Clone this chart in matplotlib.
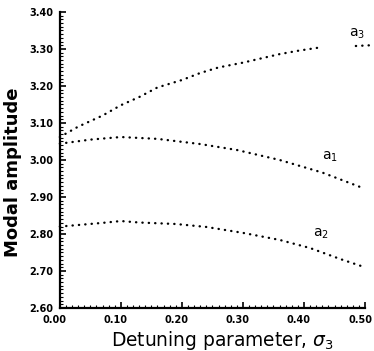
import numpy as np
import matplotlib
matplotlib.use("Agg")
import matplotlib.pyplot as plt
import matplotlib.transforms as mtransforms
from matplotlib.ticker import MultipleLocator

# values
sig_a3 = [0.0, 0.03, 0.07, 0.10, 0.13, 0.16, 0.20, 0.23, 0.26, 0.30, 0.36, 0.39, 0.43]
amp_a3 = [3.062, 3.09, 3.12, 3.148, 3.17, 3.196, 3.216, 3.235, 3.25, 3.263, 3.286, 3.295, 3.305]
sig_a3_tail = [0.485, 0.51]
amp_a3_tail = [3.308, 3.31]

sig_a1 = [0.0, 0.05, 0.10, 0.16, 0.23, 0.29, 0.36, 0.43, 0.50]
amp_a1 = [3.044, 3.055, 3.062, 3.057, 3.043, 3.027, 3.0, 2.966, 2.922]

sig_a2 = [0.0, 0.07, 0.10, 0.13, 0.19, 0.24, 0.30, 0.36, 0.41, 0.46, 0.50]
amp_a2 = [2.82, 2.83, 2.835, 2.831, 2.827, 2.819, 2.803, 2.784, 2.762, 2.732, 2.71]

xticks = [0.0, 0.1, 0.2, 0.3, 0.4, 0.5]
yticks = [2.6, 2.7, 2.8, 2.9, 3.0, 3.1, 3.2, 3.3, 3.4]

fig = plt.figure(figsize=(3.74, 3.51), dpi=100)
ax = fig.add_axes([0.160, 0.1225, 0.816, 0.8435])

dot = dict(color="black", linewidth=1.7, linestyle=(0, (0.1, 2.6)),
           dash_capstyle="round", clip_on=False)
ax.plot(sig_a3, amp_a3, **dot)
ax.plot(sig_a3_tail, amp_a3_tail, **dot)
ax.plot(sig_a1, amp_a1, **dot)
ax.plot(sig_a2, amp_a2, **dot)

ax.text(0.487, 3.34, r"a$_3$", fontsize=10, ha="center", va="center")
ax.text(0.443, 3.008, r"a$_1$", fontsize=10, ha="center", va="center")
ax.text(0.428, 2.80, r"a$_2$", fontsize=10, ha="center", va="center")

ax.set_xlim(0, 0.5)
ax.set_ylim(2.6, 3.4)
ax.set_xticks(xticks)
ax.set_yticks(yticks)
ax.set_xticklabels(["%.2f" % v for v in xticks], fontsize=7, fontweight="bold")
ax.set_yticklabels(["%.2f" % v for v in yticks], fontsize=7, fontweight="bold")
ax.xaxis.set_minor_locator(MultipleLocator(0.01))
ax.yaxis.set_minor_locator(MultipleLocator(0.01))
ax.tick_params(which="major", direction="in", length=4, width=1.2, pad=5)
ax.tick_params(which="minor", direction="in", length=2, width=0.8)

# the printed x labels sit a little left of their ticks
shift = mtransforms.ScaledTranslation(-5 / 100, 0, fig.dpi_scale_trans)
for lab in ax.get_xticklabels():
    lab.set_transform(lab.get_transform() + shift)

for s in ["top", "right"]:
    ax.spines[s].set_visible(False)
for s in ["left", "bottom"]:
    ax.spines[s].set_linewidth(1.6)

ax.set_xlabel(r"Detuning parameter, $\sigma_3$", fontsize=13.4)
ax.set_ylabel("Modal amplitude", fontsize=13, fontweight="bold")
ax.xaxis.set_label_coords(0.531, -0.072)
ax.yaxis.set_label_coords(-0.125, 0.459)

fig.savefig("out.png", dpi=100)
